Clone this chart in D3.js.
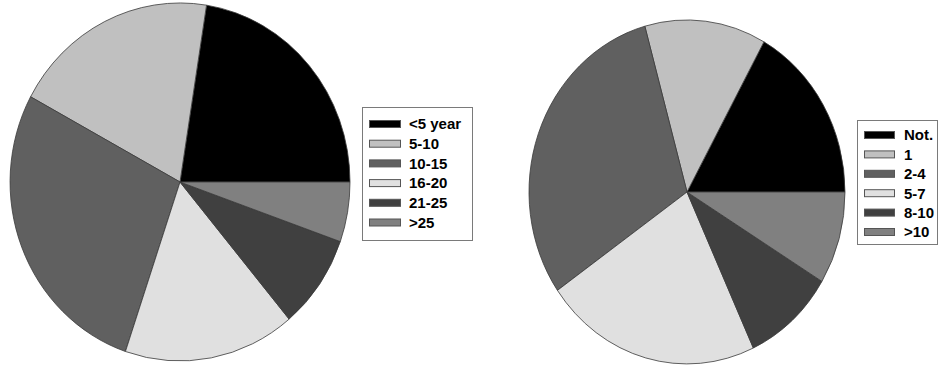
<!DOCTYPE html>
<html>
<head>
<meta charset="utf-8">
<script src="https://cdn.jsdelivr.net/npm/d3@7"></script>
<style>
  body { margin: 0; background: #fff; }
  svg { display: block; }
</style>
</head>
<body>
<script>
// data (share of each slice, %)
var yearLabels = ["<5 year", "5-10", "10-15", "16-20", "21-25", ">25"]
var yearValues = [22.5, 19.6, 27.7, 16.3, 8.5, 5.4]

var countLabels = ["Not.", "1", "2-4", "5-7", "8-10", ">10"]
var countValues = [16.9, 12.4, 30.4, 22.2, 9.4, 8.7]

var shades = ["#000000", "#c0c0c0", "#606060", "#e0e0e0", "#404040", "#808080"]

var width = 940
var height = 367

var svg = d3.select("body").append("svg")
  .attr("width", width)
  .attr("height", height)

// slices run counter-clockwise from 3 o'clock
var pie = d3.pie()
  .sort(null)
  .startAngle(Math.PI / 2)
  .endAngle(Math.PI / 2 - 2 * Math.PI)

var arc = d3.arc().innerRadius(0).outerRadius(1)

function drawPie(values, cfg) {
  // the picture is stretched, so draw on a unit circle and scale
  var g = svg.append("g")
    .attr("transform", "translate(" + cfg.cx + "," + cfg.cy + ") scale(" + cfg.rx + "," + cfg.ry + ")")

  var color = d3.scaleOrdinal().domain(d3.range(values.length)).range(shades)

  g.selectAll("path")
      .data(pie(values))
      .enter()
    .append("path")
      .attr("d", arc)
      .attr("fill", function(d, i){ return color(i) })
      .attr("stroke", "#3a3a3a")
      .attr("stroke-width", 0.8)
      .attr("vector-effect", "non-scaling-stroke")
}

function drawLegend(labels, cfg) {
  var g = svg.append("g")

  g.append("rect")
    .attr("x", cfg.x + 0.5)
    .attr("y", cfg.y + 0.5)
    .attr("width", cfg.w)
    .attr("height", cfg.h)
    .attr("fill", "#fff")
    .attr("stroke", "#7a7a7a")
    .attr("stroke-width", 1)

  var y = d3.scalePoint()
    .domain(labels)
    .range([cfg.first, cfg.first + cfg.step * (labels.length - 1)])

  var rows = g.selectAll(".row")
      .data(labels)
      .enter()
    .append("g")
      .attr("class", "row")
      .attr("transform", function(d){ return "translate(0," + y(d) + ")" })

  rows.append("rect")
    .attr("x", cfg.swatchX + 0.5)
    .attr("y", -3.5)
    .attr("width", cfg.swatchW)
    .attr("height", 7)
    .attr("fill", function(d, i){ return shades[i] })
    .attr("stroke", "#555")
    .attr("stroke-width", 1)

  rows.append("text")
    .attr("x", cfg.textX)
    .attr("y", 5.3)
    .attr("font-family", "'Liberation Sans', Arial, sans-serif")
    .attr("font-weight", "bold")
    .attr("font-size", 15)
    .attr("fill", "#000")
    .text(function(d){ return d })
}

drawPie(yearValues, { cx: 180, cy: 182, rx: 170, ry: 179 })
drawPie(countValues, { cx: 687, cy: 192, rx: 158, ry: 172 })

drawLegend(yearLabels, { x: 362, y: 107, w: 110, h: 133, first: 124, step: 19.7, swatchX: 369, swatchW: 31, textX: 409 })
drawLegend(countLabels, { x: 857, y: 120, w: 80, h: 124, first: 135, step: 19.4, swatchX: 864, swatchW: 30, textX: 904 })
</script>
</body>
</html>
